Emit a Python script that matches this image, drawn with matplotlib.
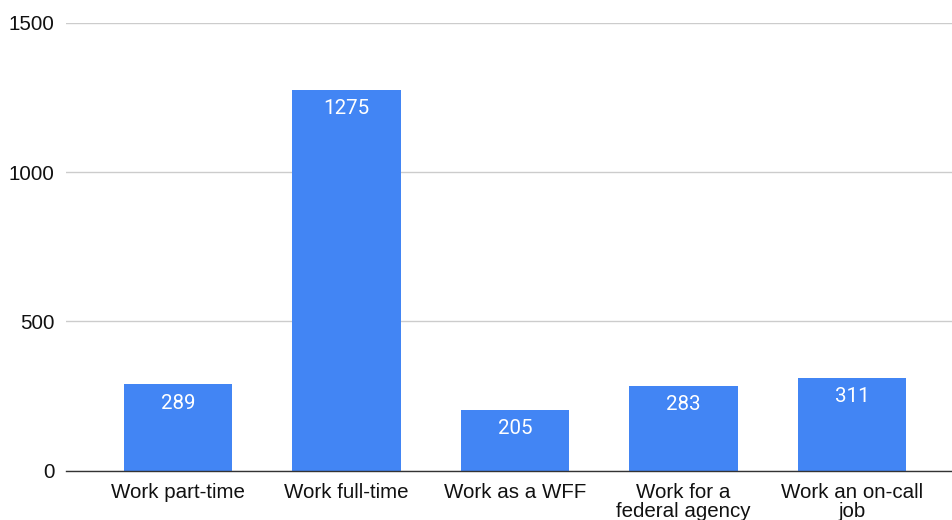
import matplotlib
matplotlib.use('Agg')
import matplotlib.pyplot as plt

# Data
categories = ['Work part-time', 'Work full-time', 'Work as a WFF',
              'Work for a\nfederal agency', 'Work an on-call\njob']
values = [289, 1275, 205, 283, 311]
yticks = [0, 500, 1000, 1500]

bar_color = '#4285F4'
plt.rcParams['font.family'] = ['Liberation Sans', 'DejaVu Sans']

fig = plt.figure(figsize=(9.52, 5.2), dpi=100)
ax = fig.add_axes([0.0693, 0.0948, 0.9307, 0.861])

xs = list(range(len(categories)))
bars = ax.bar(xs, values, width=0.645, color=bar_color, zorder=3)

for x, v in zip(xs, values):
    ax.annotate(str(v), xy=(x, v), xytext=(0, -13.5), textcoords='offset points',
                ha='center', va='center', color='white', fontsize=14.8,
                family=['Roboto', 'DejaVu Sans'], zorder=4)

ax.set_xlim(-0.665, 4.593)
ax.set_ylim(0, 1500)
ax.set_yticks(yticks)
ax.set_yticklabels([str(t) for t in yticks], fontsize=14.8, color='#111111')
ax.set_xticks(xs)
ax.set_xticklabels(categories, fontsize=14.8, color='#111111', linespacing=1.02,
                   va='top')
ax.tick_params(axis='both', length=0)
ax.tick_params(axis='y', pad=8)
ax.tick_params(axis='x', pad=8.5)

ax.grid(axis='y', color='#cccccc', linewidth=1.0, zorder=0)
for s in ['top', 'right', 'left']:
    ax.spines[s].set_visible(False)
ax.spines['bottom'].set_color('#333333')
ax.spines['bottom'].set_linewidth(1.0)
ax.spines['bottom'].set_zorder(5)

plt.savefig('out.png', dpi=100)
